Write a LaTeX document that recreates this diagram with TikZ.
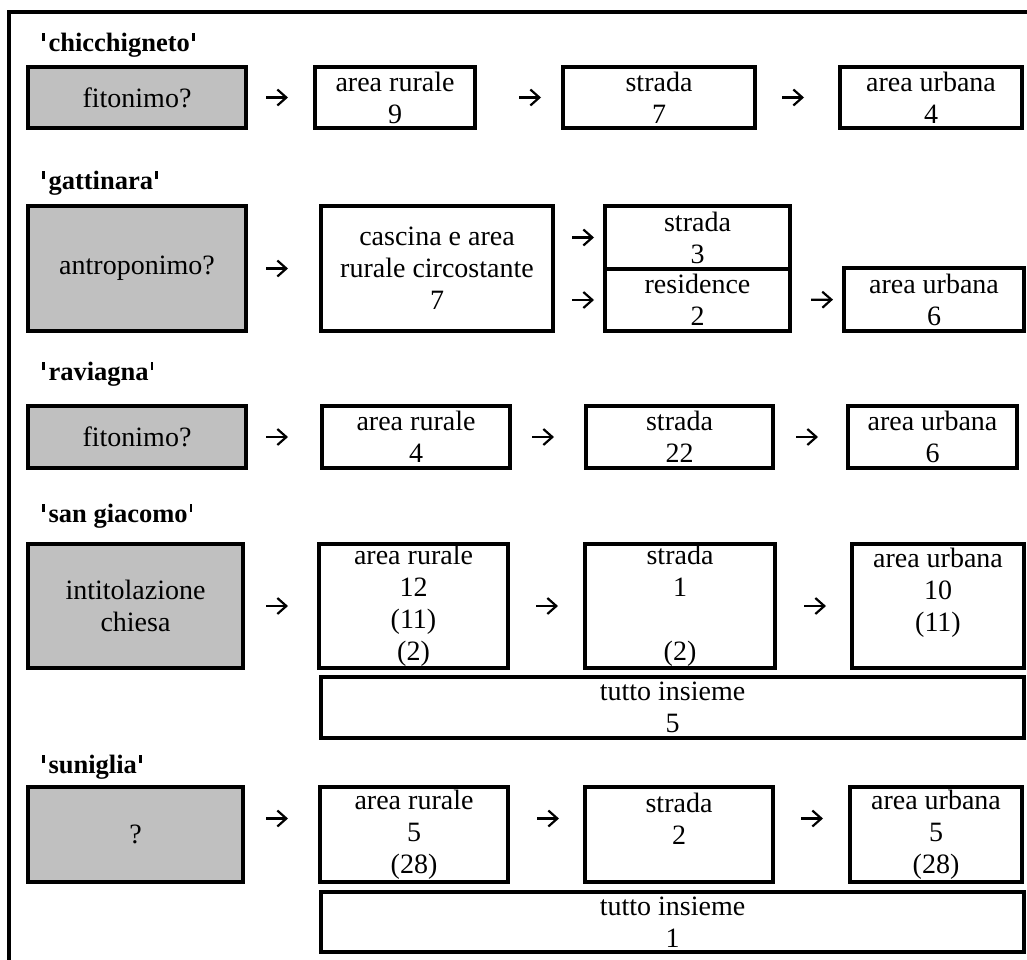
\documentclass[tikz,border=0pt]{standalone}
\usepackage{fontspec}
\setmainfont{Liberation Serif}
\usetikzlibrary{arrows.meta}
\definecolor{boxgray}{RGB}{192,192,192}
\newcommand\conn[4]{\draw[arr, shorten <=#3pt, shorten >=#4pt] (#1.east) -- (#2.west);}
\newcommand\mkl{\raisebox{10pt}{\rule{2.6pt}{8.5pt}}\kern4pt}
\newcommand\mkr{\kern2pt\raisebox{10pt}{\rule{2.6pt}{8.5pt}}}
\begin{document}
\begin{tikzpicture}[x=1pt,y=-1pt,
  every node/.style={inner sep=0pt, outer sep=0pt},
  box/.style={draw, line width=3.2pt, align=center, fill=white, font=\fontsize{28}{32}\selectfont},
  gbox/.style={box, fill=boxgray},
  ttl/.style={anchor=base west, font=\fontsize{26.5}{32}\selectfont\bfseries},
  arr/.style={line width=2.2pt, -{Straight Barb[length=9pt,width=16pt,line width=2.2pt]}}
]
\useasboundingbox (0,0) rectangle (1027,959);
\clip (0,0) rectangle (1027,959);
\draw[line width=3.2pt] (9,990) -- (9,12) -- (1050,12);

% row 1
\node[ttl] (t1) at (42,51) {\mkl chicchigneto\mkr};
\node[gbox, minimum width=218, minimum height=61] (g1) at (137,97.5) {fitonimo?};
\node[box, minimum width=160, minimum height=61] (a1) at (395,97.5) {area rurale\\9};
\node[box, minimum width=192, minimum height=61] (b1) at (659,97.5) {strada\\7};
\node[box, minimum width=182, minimum height=61] (c1) at (931,97.5) {area urbana\\4};
\conn{g1}{a1}{20}{27}
\conn{a1}{b1}{44}{22}
\conn{b1}{c1}{27}{36}

% row 2
\node[ttl] (t2) at (42,189) {\mkl gattinara\mkr};
\node[gbox, minimum width=218, minimum height=125] (g2) at (137,268.5) {antroponimo?};
\node[box, minimum width=232, minimum height=125] (a2) at (437,268.5) {cascina e area\\rurale circostante\\7};
\node[box, minimum width=185, minimum height=63] (s2) at (697.5,237.5) {strada\\3};
\node[box, minimum width=185, minimum height=62] (r2) at (697.5,300) {residence\\2};
\node[box, minimum width=180, minimum height=63] (c2) at (934,299.5) {area urbana\\6};
\conn{g2}{a2}{20}{33}
\draw[arr, shorten <=19pt, shorten >=11pt] (a2.east |- s2.west) -- (s2.west);
\draw[arr, shorten <=19pt, shorten >=11pt] (a2.east |- r2.west) -- (r2.west);
\conn{r2}{c2}{21}{11}

% row 3
\node[ttl] (t3) at (42,380) {\mkl raviagna\mkr};
\node[gbox, minimum width=218, minimum height=62] (g3) at (137,437) {fitonimo?};
\node[box, minimum width=188, minimum height=62] (a3) at (416,437) {area rurale\\4};
\node[box, minimum width=187, minimum height=62] (b3) at (679.5,437) {strada\\22};
\node[box, minimum width=169, minimum height=62] (c3) at (932.5,437) {area urbana\\6};
\conn{g3}{a3}{20}{34}
\conn{a3}{b3}{22}{32}
\conn{b3}{c3}{23}{30}

% row 4
\node[ttl] (t4) at (42,522) {\mkl san giacomo\mkr};
\node[gbox, minimum width=215, minimum height=124] (g4) at (135.5,606) {intitolazione\\chiesa};
\node[box, minimum width=189, minimum height=124] (a4) at (413.5,606) {area rurale\\12\\(11)\\(2)};
\node[box, minimum width=190, minimum height=124] (b4) at (680,606) {strada\\1\\\mbox{}\\(2)};
\node[box, minimum width=172, minimum height=124] (c4) at (938,606) {area urbana\\10\\(11)\\\mbox{}};
\node[box, minimum width=703, minimum height=61] (u4) at (672.5,707.5) {tutto insieme\\5};
\conn{g4}{a4}{23}{31}
\conn{a4}{b4}{28}{27}
\conn{b4}{c4}{29}{26}

% row 5
\node[ttl] (t5) at (42,773) {\mkl suniglia\mkr};
\node[gbox, minimum width=215, minimum height=95] (g5) at (135.5,834.5) {?};
\node[box, minimum width=188, minimum height=95] (a5) at (414,834.5) {area rurale\\5\\(28)};
\node[box, minimum width=188, minimum height=95] (b5) at (679,834.5) {strada\\2\\\mbox{}};
\node[box, minimum width=172, minimum height=95] (c5) at (936,834.5) {area urbana\\5\\(28)};
\node[box, minimum width=703, minimum height=60] (u5) at (672.5,922) {tutto insieme\\1};
\draw[arr, shorten <=23pt, shorten >=32pt] ([yshift=16pt]g5.east) -- ([yshift=16pt]a5.west);
\draw[arr, shorten <=29pt, shorten >=26pt] ([yshift=16pt]a5.east) -- ([yshift=16pt]b5.west);
\draw[arr, shorten <=28pt, shorten >=27pt] ([yshift=16pt]b5.east) -- ([yshift=16pt]c5.west);
\end{tikzpicture}
\end{document}
